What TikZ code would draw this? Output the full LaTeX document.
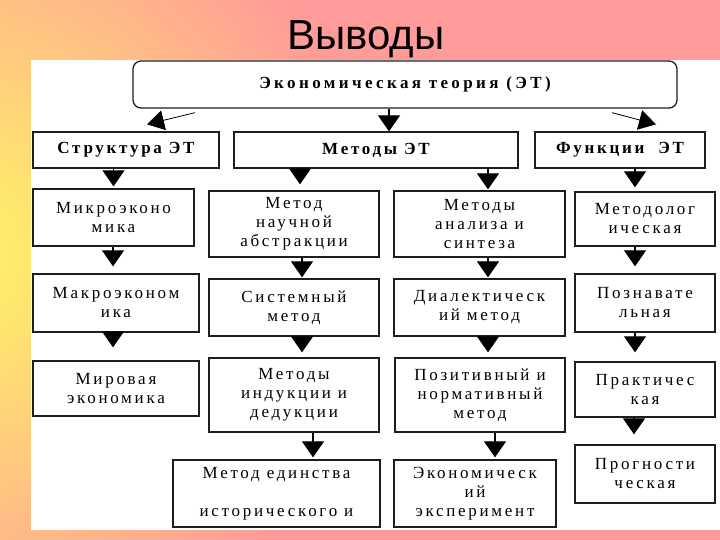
\documentclass[tikz,border=0pt]{standalone}
\usepackage{fontspec}
\setmainfont{Liberation Serif}
\newfontfamily\titlefont{Liberation Sans}
\newfontfamily\boxfont[LetterSpace=16]{Liberation Serif}
\newfontfamily\topfont[LetterSpace=20]{Liberation Serif}
\usetikzlibrary{arrows.meta}
\definecolor{slidepink}{RGB}{255,155,152}
\definecolor{slideyellow}{RGB}{255,250,100}
\definecolor{boxline}{RGB}{30,30,30}

\begin{document}
\begin{tikzpicture}[x=1pt, y=-1pt,
    blk/.style={draw=boxline, line width=1.3pt, align=center, inner sep=2pt,
                font=\boxfont\fontsize{17}{19}\selectfont},
    hblk/.style={blk, font=\boxfont\bfseries\fontsize{17}{19}\selectfont},
    arr/.style={line width=1.2pt, -{Triangle[width=22pt, length=16pt]}},
    slant/.style={line width=0.8pt, -{Triangle[width=20pt, length=17pt]}}]
    % background of the slide
    \useasboundingbox (0,0) rectangle (720,540);
    \fill[slidepink] (0,0) rectangle (720,540);
    \begin{scope}
        \clip (0,0) rectangle (720,540);
        \shade[inner color=slideyellow, outer color=slidepink] (-60,255) circle (430);
    \end{scope}
    \fill[white] (31,60) rectangle (720,530);
    \node[font=\titlefont\fontsize{42}{42}\selectfont, anchor=base] (title) at (366,50) {Выводы};

    % top level
    \node[blk, font=\topfont\bfseries\fontsize{17}{19}\selectfont, rounded corners=8pt, minimum width=544pt, minimum height=47pt] (et) at (405,84.5) {Экономическая теория (ЭТ)};
    \node[hblk, minimum width=186pt, minimum height=36pt] (strukt) at (126,150) {Структура ЭТ};
    \node[hblk, minimum width=284pt, minimum height=36pt] (metody) at (376,150) {Методы ЭТ};
    \node[hblk, minimum width=170pt, minimum height=36pt] (funkc) at (620,150) {Функции~ ЭТ};

    % structure column
    \node[blk, minimum width=161pt, minimum height=57pt] (mikro) at (113.5,217.5) {Микроэконо\\мика};
    \node[blk, minimum width=166pt, minimum height=58pt] (makro) at (116,303) {Макроэконом\\ика};
    \node[blk, minimum width=166pt, minimum height=55pt] (mir) at (116,388.5) {Мировая\\экономика};

    % methods columns
    \node[blk, minimum width=170pt, minimum height=66pt] (nauch) at (294,224) {Метод\\научной\\абстракции};
    \node[blk, minimum width=170pt, minimum height=57pt] (sist) at (294,307.5) {Системный\\метод};
    \node[blk, minimum width=170pt, minimum height=74pt] (indukc) at (294,395) {Методы\\индукции и\\дедукции};
    \node[blk, minimum width=207pt, minimum height=67pt] (edinstvo) at (276.5,493.5) {Метод единства\\\mbox{}\\исторического и};
    \node[blk, minimum width=171pt, minimum height=66pt] (analiz) at (479.5,224) {Методы\\анализа и\\синтеза};
    \node[blk, minimum width=171pt, minimum height=57pt] (dialekt) at (479.5,307.5) {Диалектическ\\ий метод};
    \node[blk, minimum width=170pt, minimum height=74pt] (pozit) at (480,395) {Позитивный и\\нормативный\\метод};
    \node[blk, minimum width=162pt, minimum height=67pt] (eksper) at (475,493.5) {Экономическ\\ий\\эксперимент};

    % functions column
    \node[blk, minimum width=140pt, minimum height=54pt] (metodol) at (645,219) {Методолог\\ическая};
    \node[blk, minimum width=140pt, minimum height=58pt] (poznav) at (645,303) {Познавате\\льная};
    \node[blk, minimum width=140pt, minimum height=55pt] (prakt) at (645,389.5) {Практичес\\кая};
    \node[blk, minimum width=140pt, minimum height=58pt] (prognost) at (645,474) {Прогности\\ческая};

    % arrows from the top box
    \draw[slant] ([shift={(-210,4)}]et.south) -- ([shift={(21,-7)}]strukt.north);
    \draw[arr] ([xshift=13pt]metody.north |- et.south) -- ([xshift=13pt]metody.north);
    \draw[slant] ([shift={(207,4)}]et.south) -- ([shift={(36,-7)}]funkc.north);

    % arrows down the columns
    \draw[arr, shorten >=2pt] (mikro.north |- strukt.south) -- (mikro.north);
    \draw[arr, shorten >=7pt] ([xshift=-3pt]makro.north |- mikro.south) -- ([xshift=-3pt]makro.north);
    \draw[arr, shorten >=13pt] ([xshift=-3pt]mir.north |- makro.south) -- ([xshift=-3pt]mir.north);
    \draw[arr, shorten >=6pt] ([xshift=6pt]nauch.north |- metody.south) -- ([xshift=6pt]nauch.north);
    \draw[arr, shorten >=1pt] ([xshift=8pt]sist.north |- nauch.south) -- ([xshift=8pt]sist.north);
    \draw[arr, shorten >=5pt] ([xshift=8pt]indukc.north |- sist.south) -- ([xshift=8pt]indukc.north);
    \draw[arr, shorten >=2pt] ([xshift=36.5pt]edinstvo.north |- indukc.south) -- ([xshift=36.5pt]edinstvo.north);
    \draw[arr, shorten >=1pt] ([xshift=8.5pt]analiz.north |- metody.south) -- ([xshift=8.5pt]analiz.north);
    \draw[arr, shorten >=1pt] ([xshift=8.5pt]dialekt.north |- analiz.south) -- ([xshift=8.5pt]dialekt.north);
    \draw[arr, shorten >=5pt] ([xshift=8pt]pozit.north |- dialekt.south) -- ([xshift=8pt]pozit.north);
    \draw[arr, shorten >=2pt] ([xshift=20pt]eksper.north |- pozit.south) -- ([xshift=20pt]eksper.north);
    \draw[arr, shorten >=4pt] ([xshift=-10pt]metodol.north |- funkc.south) -- ([xshift=-10pt]metodol.north);
    \draw[arr, shorten >=7pt] ([xshift=-10pt]poznav.north |- metodol.south) -- ([xshift=-10pt]poznav.north);
    \draw[arr, shorten >=9pt] ([xshift=-10pt]prakt.north |- poznav.south) -- ([xshift=-10pt]prakt.north);
    \draw[arr, shorten >=10pt] ([xshift=-11pt]prognost.north |- prakt.south) -- ([xshift=-11pt]prognost.north);
\end{tikzpicture}
\end{document}
